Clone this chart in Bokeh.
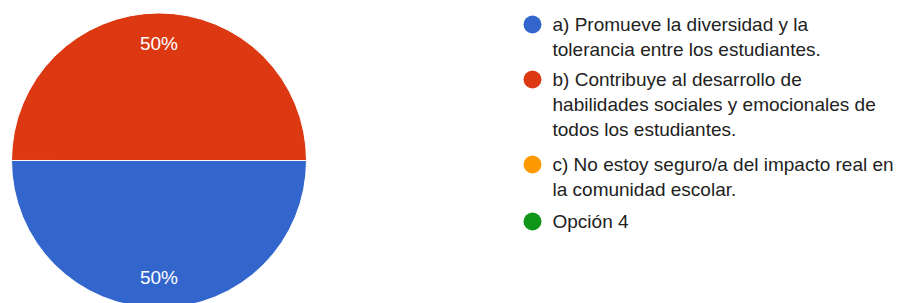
import math
from bokeh.plotting import figure
from bokeh.models import Range1d, ColumnDataSource
from bokeh.core.properties import value
from bokeh.embed import file_html
from bokeh.resources import INLINE

# ---- data ----
categories = [
    "a) Promueve la diversidad y la\ntolerancia entre los estudiantes.",
    "b) Contribuye al desarrollo de\nhabilidades sociales y emocionales de\ntodos los estudiantes.",
    "c) No estoy seguro/a del impacto real en\nla comunidad escolar.",
    "Opción 4",
]
counts = [1, 1, 0, 0]
colors = ["#3366CC", "#DC3912", "#FF9900", "#109618"]

# ---- layout ----
W, H = 899, 303
CX, CY, R = 158.5, -160.0, 147.5
LABEL_R = 117
FONT = "Liberation Sans"

p = figure(width=W, height=H, output_backend="svg", toolbar_location=None,
           x_range=Range1d(0, W), y_range=Range1d(-H, 0),
           min_border=0, tools="")
p.axis.visible = False
p.grid.visible = False
p.outline_line_color = None
p.background_fill_color = "white"

total = sum(counts)
starts, ends, cols, lx, ly, ltxt = [], [], [], [], [], []
ang = 0.0
for c, col in zip(counts, colors):
    if c == 0:
        continue
    sweep = 2 * math.pi * c / total
    starts.append(ang)
    ends.append(ang - sweep)
    cols.append(col)
    mid = ang - sweep / 2
    lx.append(CX + LABEL_R * math.cos(mid))
    ly.append(CY + LABEL_R * math.sin(mid))
    ltxt.append(f"{round(100 * c / total)}%")
    ang -= sweep

src = ColumnDataSource(dict(start=starts, end=ends, color=cols))
p.wedge(x=CX, y=CY, radius=R, start_angle="start", end_angle="end",
        direction="clock", fill_color="color", line_color="white",
        line_width=1, source=src)
p.text(x=lx, y=ly, text=ltxt, text_color="white", text_font=value(FONT),
       text_font_size="19px", text_align="center", text_baseline="middle")

# legend
item_y = [24, 79, 164, 221]
LINE = 25
mx, my, tx, ty, tt = [], [], [], [], []
for cat, col, y0 in zip(categories, colors, item_y):
    mx.append(532)
    my.append(-y0)
    for i, line in enumerate(cat.split("\n")):
        tx.append(552)
        ty.append(-(y0 + i * LINE))
        tt.append(line)
p.scatter(x=mx, y=my, size=18, fill_color=colors, line_color=None)
p.text(x=tx, y=ty, text=tt, text_color="#222222", text_font=value(FONT),
       text_font_size="19px", text_align="left", text_baseline="middle")

open("out.html", "w").write(file_html(p, INLINE))
